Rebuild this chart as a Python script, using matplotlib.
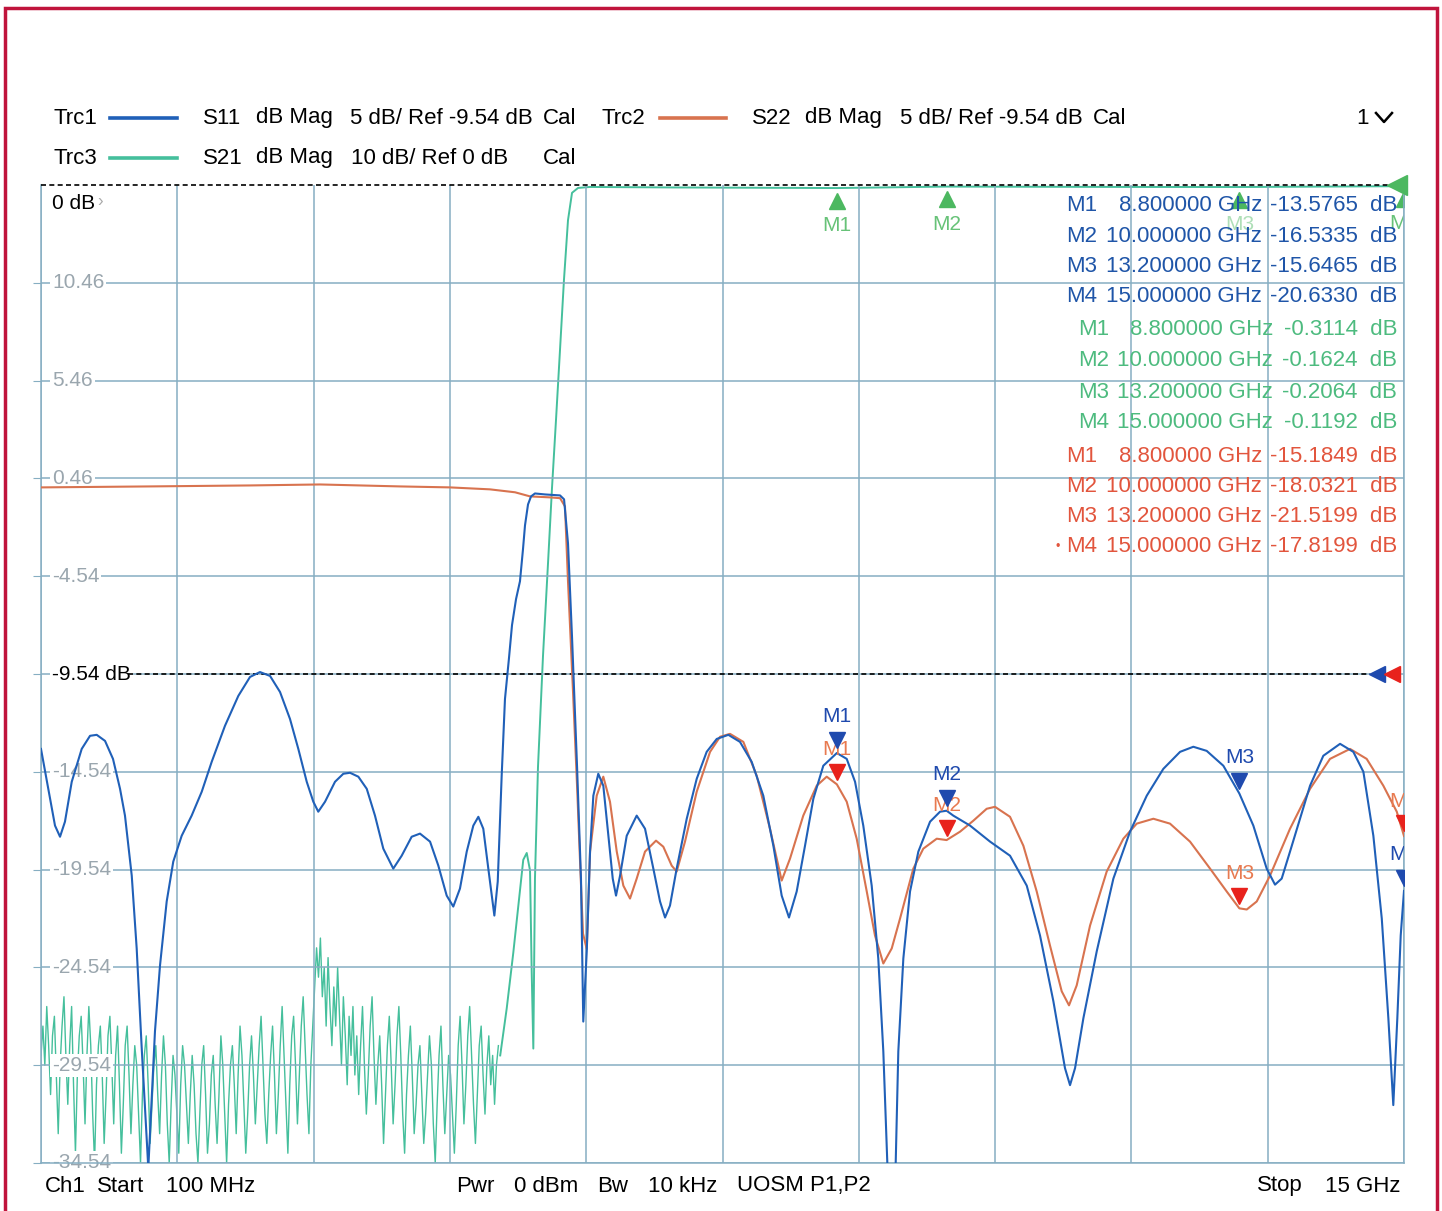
import numpy as np
import matplotlib.pyplot as plt
from matplotlib.transforms import offset_copy, blended_transform_factory
from matplotlib.lines import Line2D
from matplotlib.patches import Rectangle

W, H = 1442, 1211
plt.rcParams['font.family'] = ['Liberation Sans', 'DejaVu Sans']

# sweep / scale settings
start_ghz, stop_ghz = 0.1, 15.0
ytick_db = [10.46, 5.46, 0.46, -4.54, -9.54, -14.54, -19.54, -24.54, -29.54, -34.54]
ytick_labels = ["10.46", "5.46", "0.46", "-4.54", "-9.54 dB", "-14.54", "-19.54", "-24.54", "-29.54", "-34.54"]
ref_db = -9.54

# S11 (Trc1)
s11_ghz = [0.100, 0.180, 0.253, 0.308, 0.362, 0.436, 0.545, 0.636, 0.709, 0.800, 0.887, 0.964, 1.018,
           1.092, 1.146, 1.201, 1.256, 1.273, 1.310, 1.346, 1.401, 1.474, 1.546, 1.638, 1.747, 1.857,
           1.966, 2.111, 2.257, 2.385, 2.494, 2.604, 2.713, 2.822, 2.913, 3.005, 3.077, 3.131, 3.205,
           3.314, 3.405, 3.478, 3.569, 3.661, 3.751, 3.842, 3.951, 4.043, 4.152, 4.243, 4.353, 4.443,
           4.535, 4.607, 4.680, 4.754, 4.826, 4.881, 4.935, 4.990, 5.056, 5.093, 5.136, 5.172, 5.215,
           5.249, 5.293, 5.336, 5.369, 5.391, 5.424, 5.457, 5.500, 5.610, 5.774, 5.818, 5.861, 5.905,
           5.960, 6.003, 6.028, 6.066, 6.102, 6.138, 6.192, 6.247, 6.302, 6.350, 6.386, 6.430, 6.503,
           6.612, 6.703, 6.794, 6.867, 6.922, 6.976, 7.049, 7.159, 7.268, 7.377, 7.487, 7.614, 7.741,
           7.869, 7.996, 8.106, 8.197, 8.277, 8.361, 8.452, 8.543, 8.652, 8.800, 8.908, 8.999, 9.089,
           9.181, 9.253, 9.308, 9.363, 9.436, 9.472, 9.527, 9.600, 9.691, 9.819, 9.928, 10.0, 10.073,
           10.256, 10.475, 10.693, 10.876, 11.021, 11.167, 11.294, 11.349, 11.404, 11.495, 11.641,
           11.823, 12.005, 12.188, 12.369, 12.552, 12.697, 12.843, 13.025, 13.2, 13.353, 13.499,
           13.590, 13.663, 13.754, 13.863, 13.973, 14.118, 14.301, 14.446, 14.556, 14.665, 14.757,
           14.829, 14.883, 14.927, 14.964, 15.0]
s11_db = [-13.37, -15.41, -17.29, -17.86, -17.09, -15.05, -13.37, -12.70, -12.65, -12.96, -13.88, -15.41,
          -16.78, -19.85, -23.57, -28.67, -33.42, -34.8, -31.22, -27.80, -24.44, -21.17, -19.13, -17.81,
          -16.78, -15.56, -14.03, -12.19, -10.66, -9.69, -9.44, -9.64, -10.46, -11.84, -13.37, -15.05,
          -16.07, -16.58, -16.07, -15.05, -14.64, -14.59, -14.79, -15.41, -16.78, -18.47, -19.49, -18.83,
          -17.86, -17.70, -18.11, -19.33, -20.87, -21.43, -20.51, -18.62, -17.29, -16.84, -17.45, -19.49,
          -21.89, -20.15, -14.74, -10.82, -8.77, -7.04, -5.71, -4.80, -3.16, -1.94, -0.87, -0.46, -0.31,
          -0.36, -0.41, -0.61, -2.86, -7.65, -14.28, -20.0, -27.31, -23.72, -18.62, -15.76, -14.64,
          -15.25, -17.81, -20.00, -20.87, -19.85, -17.81, -16.78, -17.45, -19.49, -21.17, -21.99, -21.38,
          -19.49, -16.94, -14.90, -13.52, -12.86, -12.65, -13.01, -14.03, -15.76, -18.32, -20.87, -21.99,
          -20.66, -18.32, -15.92, -14.23, -13.58, -13.88, -15.05, -17.29, -20.36, -24.08, -28.83, -36.0,
          -36.0, -28.83, -24.08, -20.66, -18.62, -17.09, -16.58, -16.53, -16.78, -17.29, -18.11, -18.83,
          -20.36, -22.91, -26.27, -29.69, -30.56, -29.69, -27.14, -23.72, -20.00, -17.60, -15.76, -14.39,
          -13.52, -13.26, -13.47, -14.23, -15.65, -17.29, -19.49, -20.31, -20.00, -18.62, -16.94, -15.25,
          -13.72, -13.11, -13.52, -14.54, -17.81, -22.04, -27.14, -31.58, -27.14, -22.91, -20.63]

# S22 (Trc2)
s22_ghz = [0.10, 1.29, 2.385, 3.15, 4.024, 4.571, 5.008, 5.282, 5.446, 5.665, 5.774, 5.828, 5.861,
           5.916, 5.960, 5.992, 6.025, 6.066, 6.102, 6.175, 6.247, 6.320, 6.394, 6.466, 6.539, 6.612,
           6.703, 6.823, 6.903, 6.995, 7.049, 7.140, 7.268, 7.414, 7.523, 7.632, 7.778, 7.924, 8.069,
           8.197, 8.288, 8.433, 8.580, 8.689, 8.800, 8.908, 9.017, 9.127, 9.217, 9.308, 9.400, 9.491,
           9.636, 9.745, 9.892, 10.0, 10.147, 10.292, 10.438, 10.529, 10.693, 10.839, 10.985, 11.130,
           11.258, 11.338, 11.422, 11.568, 11.750, 11.932, 12.078, 12.260, 12.442, 12.661, 12.880,
           13.062, 13.2, 13.281, 13.390, 13.535, 13.754, 13.973, 14.191, 14.410, 14.592, 14.774,
           14.921, 15.0]
s22_db = [0.0, 0.05, 0.10, 0.15, 0.05, 0.0, -0.10, -0.25, -0.46, -0.51, -0.55, -0.97, -4.80, -10.46,
          -15.25, -19.03, -22.81, -23.60, -18.62, -15.76, -14.79, -16.07, -18.62, -20.36, -21.02, -20.00,
          -18.62, -18.06, -18.37, -19.34, -19.64, -18.11, -15.56, -13.52, -12.75, -12.60, -13.01, -14.74,
          -17.45, -20.10, -18.98, -16.78, -15.25, -14.79, -15.18, -16.07, -17.96, -20.66, -22.91, -24.34,
          -23.57, -22.04, -19.49, -18.47, -17.96, -18.03, -17.60, -17.04, -16.43, -16.33, -16.84, -18.32,
          -20.66, -23.42, -25.76, -26.48, -25.46, -22.40, -19.64, -17.96, -17.19, -16.94, -17.19, -18.11,
          -19.49, -20.66, -21.52, -21.58, -21.17, -19.85, -17.45, -15.41, -13.88, -13.37, -13.88, -15.25,
          -16.58, -17.82]

# S21 (Trc3): stopband noise floor, 100 MHz .. 5.1 GHz
s21_noise_db = [-89, -86, -90, -84, -88, -93, -87, -85, -91, -97,
                -90, -86, -83, -89, -94, -88, -84, -92, -99, -91,
                -87, -85, -90, -96, -89, -84, -88, -95, -100, -92,
                -88, -86, -91, -98, -93, -87, -85, -90, -96, -89,
                -86, -92, -99, -94, -88, -86, -91, -97, -92, -88,
                -90, -95, -100, -93, -89, -87, -92, -98, -94, -90,
                -88, -93, -97, -91, -87, -90, -96, -100, -94, -89,
                -91, -95, -99, -92, -88, -90, -94, -98, -93, -89,
                -92, -97, -100, -95, -90, -88, -93, -99, -96, -91,
                -89, -94, -98, -93, -87, -90, -95, -100, -94, -90,
                -88, -92, -97, -91, -86, -89, -94, -99, -95, -90,
                -87, -91, -96, -92, -88, -85, -90, -95, -98, -93,
                -89, -86, -91, -97, -93, -88, -84, -89, -94, -99,
                -92, -87, -85, -90, -96, -91, -86, -83, -88, -93,
                -97, -90, -86, -82, -78, -81, -77, -83, -80, -86,
                -79, -84, -88, -82, -86, -80, -85, -90, -83, -87,
                -92, -85, -89, -84, -91, -87, -93, -88, -84, -90,
                -95, -91, -86, -83, -89, -94, -90, -87, -92, -98,
                -93, -88, -85, -90, -96, -92, -87, -84, -89, -95,
                -99, -93, -89, -86, -91, -97, -94, -90, -88, -93,
                -98, -95, -91, -87, -90, -96, -100, -94, -89, -86,
                -92, -97, -93, -89, -91, -95, -99, -94, -88, -85,
                -90, -96, -92, -87, -84, -89, -94, -98, -93, -88,
                -86, -91, -95, -90, -87, -92, -89, -94, -90, -88]
noise_stop_ghz = 5.1
# S21 filter edge and passband
s21_edge_ghz = [5.12, 5.191, 5.263, 5.372, 5.410, 5.446, 5.464, 5.482, 5.500, 5.533, 5.588, 5.643,
                5.686, 5.730, 5.774, 5.817, 5.861, 5.905, 5.971, 6.1, 7.0, 8.8, 10.0, 12.0, 13.2, 15.0]
s21_edge_db = [-89.0, -84.2, -78.5, -69.0, -68.3, -70.1, -80.4, -88.3, -70.9, -59.5, -48.1, -38.6,
               -31.0, -24.0, -16.8, -9.7, -3.6, -0.8, -0.3, -0.2, -0.25, -0.3114, -0.1624, -0.2,
               -0.2064, -0.1192]

# markers
marker_names = ["M1", "M2", "M3", "M4"]
marker_ghz = [8.8, 10.0, 13.2, 15.0]
s11_marker_db = [-13.5765, -16.5335, -15.6465, -20.6330]
s21_marker_db = [-0.3114, -0.1624, -0.2064, -0.1192]
s22_marker_db = [-15.1849, -18.0321, -21.5199, -17.8199]

BLUE = "#2060b8"
RED = "#d8734f"
TEAL = "#45bf9c"
GRID = "#86aec2"
MK_BLUE = "#1f4aae"
MK_RED = "#e8221c"
MK_GREEN = "#4cb860"
TXT_BLUE = "#1f55a8"
TXT_GREEN = "#4dbb7f"
TXT_RED = "#e2553d"

fig = plt.figure(figsize=(W / 100, H / 100), dpi=100)
ax = fig.add_axes([41 / W, 1 - 1163 / H, 1363 / W, 978 / H])
ax.set_xlim(start_ghz, stop_ghz)
ax.set_ylim(-34.54, 15.46)
ax.set_xticks(np.linspace(start_ghz, stop_ghz, 11))
ax.set_yticks(ytick_db)
ax.set_xticklabels([])
ax.set_yticklabels([])
ax.tick_params(axis='x', length=0)
ax.tick_params(axis='y', direction='out', length=6, color=GRID)
ax.grid(True, color=GRID, lw=1.1)
for side in ['left', 'right', 'bottom']:
    ax.spines[side].set_color(GRID)
    ax.spines[side].set_linewidth(1.1)
ax.spines['top'].set_visible(False)

# S21 uses its own 10 dB/div scale, ref 0 dB at the top
ax2 = ax.twinx()
ax2.set_ylim(-100, 0)
ax2.set_yticks([])
for s in ax2.spines.values():
    s.set_visible(False)

# y labels inside the plot
tr = blended_transform_factory(ax.transAxes, ax.transData)
for v, lab in zip(ytick_db, ytick_labels):
    col = 'black' if lab.endswith('dB') else '#9aa6ae'
    ax.text(0.008, v, lab, transform=tr, ha='left', va='center', fontsize=15, color=col, zorder=2,
            bbox=dict(facecolor='white', edgecolor='none', pad=1.5))
ax.text(0.008, 14.5, "0 dB", transform=tr, ha='left', va='center', fontsize=15, color='black', zorder=2)
ax.text(0.041, 14.6, "\u203a", transform=tr, ha='left', va='center', fontsize=12, color='#aaaaaa')

# reference lines
ax.axhline(ref_db, xmin=0.064, xmax=0.975, color='black', ls=(0, (3, 2)), lw=1.2, zorder=3)
ax.axhline(15.46, color='black', ls=(0, (3, 2)), lw=1.2, zorder=3, clip_on=False)

# traces
ax2.plot(np.linspace(start_ghz, noise_stop_ghz, len(s21_noise_db)), s21_noise_db, color=TEAL, lw=1.0,
         zorder=4)
ax2.plot(s21_edge_ghz, s21_edge_db, color=TEAL, lw=1.4, zorder=4)
ax.plot(s22_ghz, s22_db, color=RED, lw=1.5, zorder=5)
ax.plot(s11_ghz, s11_db, color=BLUE, lw=1.5, zorder=6)
ax.set_zorder(ax2.get_zorder() + 1)
ax.patch.set_visible(False)

# markers on the traces
down_off = offset_copy(ax.transData, fig=fig, x=0, y=9, units='points')
up_off = offset_copy(ax2.transData, fig=fig, x=0, y=-9, units='points')
for name, g, b, r in zip(marker_names, marker_ghz, s11_marker_db, s22_marker_db):
    ax.plot(g, r, marker='v', ms=12, color=MK_RED, transform=down_off, zorder=7)
    ax.annotate(name, (g, r), xytext=(0, 25), textcoords='offset points', ha='center', va='center',
                fontsize=15, color='#e87a50', zorder=7, annotation_clip=False, clip_on=True)
    ax.plot(g, b, marker='v', ms=12, color=MK_BLUE, transform=down_off, zorder=8)
    ax.annotate(name, (g, b), xytext=(0, 26), textcoords='offset points', ha='center', va='center',
                fontsize=15, color=MK_BLUE, zorder=8, annotation_clip=False, clip_on=True)
for name, g, v in zip(marker_names, marker_ghz, s21_marker_db):
    ax2.plot(g, v, marker='^', ms=12, color=MK_GREEN, transform=up_off, zorder=7)
    ax2.annotate(name, (g, v), xytext=(0, -27), textcoords='offset points', ha='center', va='center',
                 fontsize=15, color=MK_GREEN, alpha=0.85 if name != "M3" else 0.45, clip_on=True)

# reference arrows at the right edge
ax.plot(0.980, ref_db, marker='<', ms=12, color=MK_BLUE, transform=tr, clip_on=False, zorder=8)
ax.plot(0.991, ref_db, marker='<', ms=12, color=MK_RED, transform=tr, clip_on=False, zorder=8)
ax.plot(0.995, 15.46, marker='<', ms=15, color=MK_GREEN, transform=tr, clip_on=False, zorder=8)


def ftext(x, y, s, **kw):
    kw.setdefault('fontsize', 16)
    kw.setdefault('va', 'center')
    fig.text(x / W, 1 - y / H, s, **kw)


def fline(x0, x1, y, color):
    fig.add_artist(Line2D([x0 / W, x1 / W], [1 - y / H, 1 - y / H], color=color, lw=2.6))


# header
ftext(53, 118, "Trc1")
fline(110, 177, 118, BLUE)
ftext(203, 118, "S11")
ftext(256, 118, "dB Mag")
ftext(350, 118, "5 dB/ Ref -9.54 dB")
ftext(543, 118, "Cal")
ftext(602, 118, "Trc2")
fline(660, 726, 118, RED)
ftext(752, 118, "S22")
ftext(805, 118, "dB Mag")
ftext(900, 118, "5 dB/ Ref -9.54 dB")
ftext(1093, 118, "Cal")
ftext(1356, 118, "1")
fig.add_artist(Line2D([1376 / W, 1384 / W, 1392 / W], [1 - 113 / H, 1 - 122 / H, 1 - 113 / H],
                      color='black', lw=1.8))
ftext(53, 158, "Trc3")
fline(110, 177, 158, TEAL)
ftext(203, 158, "S21")
ftext(256, 158, "dB Mag")
ftext(351, 158, "10 dB/ Ref 0 dB")
ftext(543, 158, "Cal")

# marker table
rows = [(s11_marker_db, TXT_BLUE, 1066, 1262, [206, 236, 267, 297]),
        (s21_marker_db, TXT_GREEN, 1078, 1273, [330, 361, 392, 422]),
        (s22_marker_db, TXT_RED, 1066, 1262, [456, 487, 517, 547])]
for vals, col, xl, xf, ys in rows:
    for name, g, v, y in zip(marker_names, marker_ghz, vals, ys):
        ftext(xl, y, name, color=col, ha='left')
        ftext(xf, y, f"{g:.6f} GHz", color=col, ha='right')
        ftext(1397, y, f"{v:.4f}  dB", color=col, ha='right')
ftext(1058, 547, "\u2022", color=TXT_RED, ha='center', fontsize=9)

# status bar
for x, s in [(45, "Ch1"), (97, "Start"), (166, "100 MHz"), (456, "Pwr"), (514, "0 dBm"),
             (597, "Bw"), (648, "10 kHz"), (737, "UOSM P1,P2"), (1257, "Stop"), (1325, "15 GHz")]:
    ftext(x, 1186, s)

# outer frame
fig.add_artist(Rectangle((5 / W, -0.1), 1432 / W, 1 - 8 / H + 0.1, fill=False,
                         edgecolor='#c0143c', lw=2.5))

fig.savefig("out.png", dpi=100)
